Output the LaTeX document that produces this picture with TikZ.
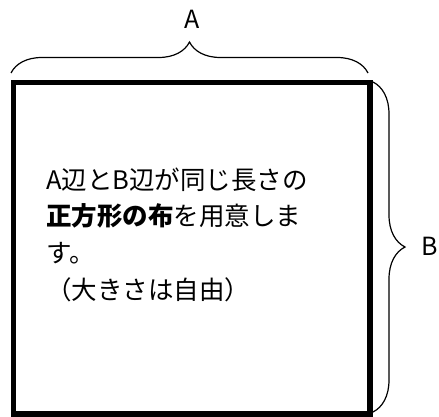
\documentclass[tikz,border=0pt]{standalone}
\usepackage{fontspec}
\setmainfont{Noto Sans CJK JP}
\usetikzlibrary{decorations.pathreplacing}
\begin{document}
\begin{tikzpicture}[x=1pt,y=-1pt,
  cloth/.style={draw=black,line width=5.5pt,minimum width=356.5pt,minimum height=331.5pt,inner sep=0pt,outer sep=0pt},
  bracepath/.style={draw=black,line width=1.2pt,decorate,decoration={brace,amplitude=31pt}},
  lbl/.style={font=\fontsize{25}{30}\selectfont,inner sep=0pt},
  txt/.style={font=\fontsize{25.5}{30}\selectfont,inner sep=0pt,anchor=base west}]
\useasboundingbox (0,0) rectangle (439,417);
\node[cloth] (sq) at (191.75,248.25) {};
\coordinate (ta) at (11,73);
\coordinate (tb) at (368,73);
\coordinate (ra) at (373,82);
\coordinate (rb) at (373,412);
\draw[bracepath] (ta) -- (tb);
\draw[bracepath,decoration={brace,amplitude=32pt}] (ra) -- (rb);
\node[lbl] (A) at (192,19) {A};
\node[lbl] (B) at (430,246) {B};
\node[txt] (l1) at (46,189) {A辺とB辺が同じ長さの};
\node[txt] (l2) at (46,225.7) {{\bfseries 正方形の布}を用意しま};
\node[txt] (l3) at (46,262.3) {す。};
\node[txt] (l4) at (46,299) {（大きさは自由）};
\end{tikzpicture}
\end{document}
